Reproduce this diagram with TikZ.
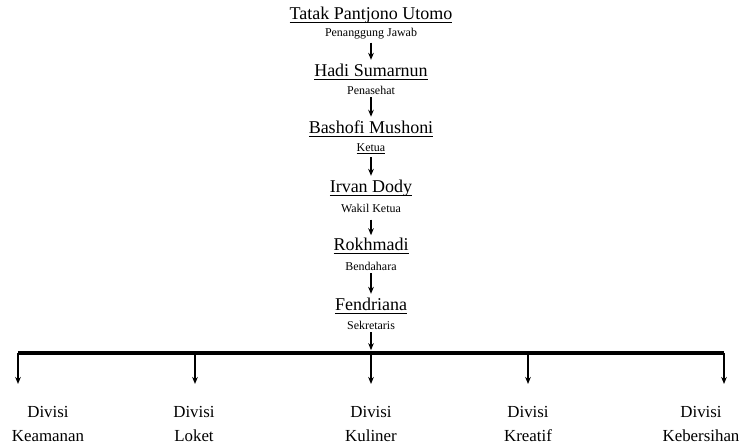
\documentclass[tikz,border=0pt]{standalone}
\usepackage{fontspec}
\setmainfont{Liberation Serif}
\usetikzlibrary{positioning,
                arrows.meta}                % arrow tips

\newcommand{\ulname}[1]{\underline{\raisebox{0pt}[\height][0pt]{#1}}}

\begin{document}
\begin{tikzpicture}[x=0.025cm, y=-0.025cm,
    person/.style={font=\fontsize{12.8}{14}\selectfont, inner sep=1pt},
    role/.style={font=\fontsize{8.5}{10}\selectfont, inner sep=1pt},
    divisi/.style={font=\fontsize{12}{17}\selectfont, align=center, inner sep=1pt},
    down/.style={-{Stealth[length=5pt,width=4pt]}, line width=0.9pt}]
    \useasboundingbox (0,0) rectangle (744,444);

    % chain of officers
    \node[person] (tatak) at (371,15) {\ulname{Tatak Pantjono Utomo}};
    \node[role] (pj) at (371,34) {Penanggung Jawab};
    \node[person] (hadi) at (371,72) {\ulname{Hadi Sumarnun}};
    \node[role] (penasehat) at (371,90) {Penasehat};
    \node[person] (bashofi) at (371,129) {\ulname{Bashofi Mushoni}};
    \node[role] (ketua) at (371,149) {\ulname{Ketua}};
    \node[person] (irvan) at (371,188) {\ulname{Irvan Dody}};
    \node[role] (wakil) at (371,208) {Wakil Ketua};
    \node[person] (rokhmadi) at (371,246) {\ulname{Rokhmadi}};
    \node[role] (bendahara) at (371,266) {Bendahara};
    \node[person] (fendriana) at (371,306) {\ulname{Fendriana}};
    \node[role] (sekretaris) at (371,325) {Sekretaris};

    \draw[down, shorten <=1pt, shorten >=2pt] (pj) -- (hadi);
    \draw[down, shorten <=1pt, shorten >=2pt] (penasehat) -- (bashofi);
    \draw[down, shorten <=1pt, shorten >=2pt] (ketua) -- (irvan);
    \draw[down, shorten <=4pt, shorten >=1pt] (wakil) -- (rokhmadi);
    \draw[down, shorten <=1pt, shorten >=2pt] (bendahara) -- (fendriana);

    % bar to the divisions
    \coordinate (bar) at (371,353);
    \draw[down, shorten <=1pt, shorten >=2pt] (sekretaris) -- (bar);
    \draw[line width=2.2pt] (18,353) -- (724,353);

    \foreach \x/\lx/\d [count=\i] in {18/48/Keamanan, 195/194/Loket, 371/371/Kuliner,
                                      528/528/Kreatif, 724/701/Kebersihan}{
        \coordinate (b\i) at (\x,353);
        \coordinate (e\i) at (\x,384);
        \draw[down] (b\i) -- (e\i);
        \node[divisi] (div\i) at (\lx,424) {Divisi\\\d};
    }
\end{tikzpicture}
\end{document}
